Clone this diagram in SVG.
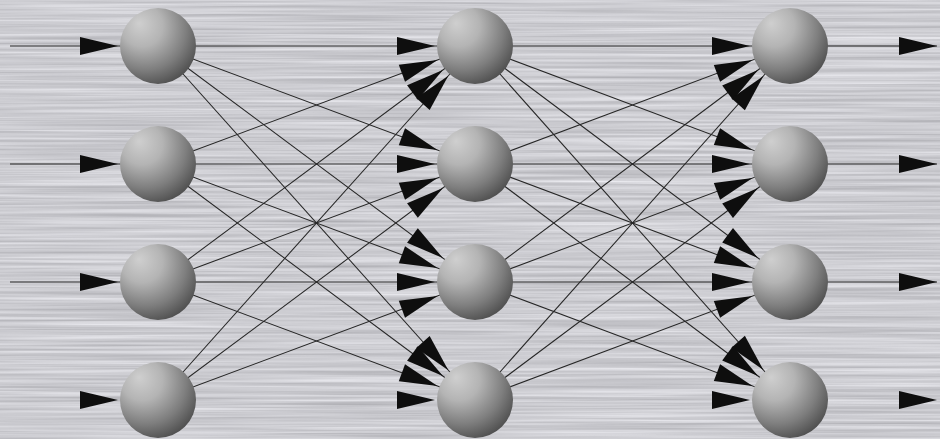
<svg xmlns="http://www.w3.org/2000/svg" width="940" height="439" viewBox="0 0 940 439">
<style>
.c{stroke:#262626;stroke-width:1.05;fill:none;marker-end:url(#ah)}
.n{stroke:none;fill:none;marker-end:url(#ah)}
.o{stroke:#262626;stroke-width:1.05;fill:none;marker-end:url(#at)}
.on{stroke:none;fill:none;marker-end:url(#at)}
.s{fill:url(#sph)}
</style>
<defs>
<filter id="brush" x="0" y="0" width="100%" height="100%" color-interpolation-filters="sRGB">
<feTurbulence type="fractalNoise" baseFrequency="0.004 0.35" numOctaves="3" seed="7"/>
<feColorMatrix type="matrix" values="0.28 0 0 0 0.66  0.28 0 0 0 0.66  0.28 0 0 0 0.68  0 0 0 0 1"/>
</filter>
<radialGradient id="sph" cx="0.36" cy="0.3" r="0.78" fx="0.25" fy="0.2">
<stop offset="0" stop-color="#cfcfcf"/>
<stop offset="0.35" stop-color="#b4b4b4"/>
<stop offset="0.7" stop-color="#7e7e7e"/>
<stop offset="1" stop-color="#484848"/>
</radialGradient>
<marker id="ah" markerUnits="userSpaceOnUse" markerWidth="1" markerHeight="1" refX="0" refY="0" orient="auto" style="overflow:visible">
<path d="M-40,0 L-78,-9 L-78,9 Z" fill="#0e0e0e"/>
</marker>
<marker id="at" markerUnits="userSpaceOnUse" markerWidth="1" markerHeight="1" refX="0" refY="0" orient="auto" style="overflow:visible">
<path d="M0,0 L-38,-9 L-38,9 Z" fill="#0e0e0e"/>
</marker>
</defs>
<rect width="940" height="439" fill="#c8c8cc"/>
<rect width="940" height="439" filter="url(#brush)"/>
<g id="connectors">
<path class="c" d="M10,46 L158,46"/>
<path class="c" d="M10,164 L158,164"/>
<path class="c" d="M10,282 L158,282"/>
<path class="n" d="M118,400 L158,400"/>
<path class="c" d="M158,46 L475,46"/>
<path class="c" d="M158,46 L475,164"/>
<path class="c" d="M158,46 L475,282"/>
<path class="c" d="M158,46 L475,400"/>
<path class="c" d="M158,164 L475,46"/>
<path class="c" d="M158,164 L475,164"/>
<path class="c" d="M158,164 L475,282"/>
<path class="c" d="M158,164 L475,400"/>
<path class="c" d="M158,282 L475,46"/>
<path class="c" d="M158,282 L475,164"/>
<path class="c" d="M158,282 L475,282"/>
<path class="c" d="M158,282 L475,400"/>
<path class="c" d="M158,400 L475,46"/>
<path class="c" d="M158,400 L475,164"/>
<path class="c" d="M158,400 L475,282"/>
<path class="n" d="M158,400 L475,400"/>
<path class="c" d="M475,46 L790,46"/>
<path class="c" d="M475,46 L790,164"/>
<path class="c" d="M475,46 L790,282"/>
<path class="c" d="M475,46 L790,400"/>
<path class="c" d="M475,164 L790,46"/>
<path class="c" d="M475,164 L790,164"/>
<path class="c" d="M475,164 L790,282"/>
<path class="c" d="M475,164 L790,400"/>
<path class="c" d="M475,282 L790,46"/>
<path class="c" d="M475,282 L790,164"/>
<path class="c" d="M475,282 L790,282"/>
<path class="c" d="M475,282 L790,400"/>
<path class="c" d="M475,400 L790,46"/>
<path class="c" d="M475,400 L790,164"/>
<path class="c" d="M475,400 L790,282"/>
<path class="n" d="M475,400 L790,400"/>
<path class="o" d="M790,46 L937,46"/>
<path class="o" d="M790,164 L937,164"/>
<path class="o" d="M790,282 L937,282"/>
<path class="on" d="M899,400 L937,400"/>
</g>
<g id="n11"><circle class="s" cx="158" cy="46" r="38"/></g>
<g id="n12"><circle class="s" cx="158" cy="164" r="38"/></g>
<g id="n13"><circle class="s" cx="158" cy="282" r="38"/></g>
<g id="n14"><circle class="s" cx="158" cy="400" r="38"/></g>
<g id="n21"><circle class="s" cx="475" cy="46" r="38"/></g>
<g id="n22"><circle class="s" cx="475" cy="164" r="38"/></g>
<g id="n23"><circle class="s" cx="475" cy="282" r="38"/></g>
<g id="n24"><circle class="s" cx="475" cy="400" r="38"/></g>
<g id="n31"><circle class="s" cx="790" cy="46" r="38"/></g>
<g id="n32"><circle class="s" cx="790" cy="164" r="38"/></g>
<g id="n33"><circle class="s" cx="790" cy="282" r="38"/></g>
<g id="n34"><circle class="s" cx="790" cy="400" r="38"/></g>
</svg>
